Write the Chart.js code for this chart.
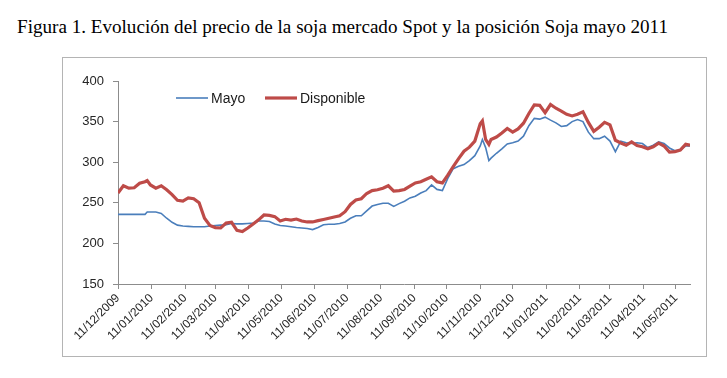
<!DOCTYPE html>
<html>
<head>
<meta charset="utf-8">
<script src="https://cdn.jsdelivr.net/npm/chart.js@4"></script>
<style>
  html, body { margin: 0; padding: 0; background: #ffffff; }
  body { width: 727px; height: 378px; position: relative; overflow: hidden; }
  #title {
    position: absolute; left: 17px; top: 16px;
    font-family: "Liberation Serif", "DejaVu Serif", serif;
    font-size: 18px; color: #000; white-space: nowrap; line-height: 22px;
  }
  #box {
    position: absolute; left: 62px; top: 57px; width: 643px; height: 298px;
    border: 1px solid #b4b4b4;
  }
  #box canvas { display: block; }
</style>
</head>
<body>
<div id="title">Figura 1. Evolución del precio de la soja mercado Spot y la posición Soja mayo 2011</div>
<div id="box"><canvas id="c" width="643" height="298"></canvas></div>
<script>
// Day offsets since 11/12/2009 (x positions of the samples)
const days = [0,5,10,15,20,25,27,30,35,40,45,50,55,60,65,70,75,80,85,90,95,100,105,110,115,120,125,130,135,140,145,150,155,160,165,170,175,180,185,190,195,200,205,210,215,220,225,230,235,240,245,250,255,260,265,270,275,280,285,290,295,300,305,310,315,320,325,330,335,337,340,343,345,350,355,360,365,370,375,380,385,390,395,400,405,410,415,420,425,430,435,440,445,450,455,460,465,470,475,480,485,490,495,500,505,510,515,520,525,529];

// Mayo (posición Soja mayo 2011)
const mayo = [235.8,235.8,235.8,235.8,235.8,235.8,238.6,238.6,238.6,237,231,226,222.5,221.5,221,220.5,220.5,220.5,221.5,222,222.5,223,224.5,224,224,224.5,225,227.6,227.6,227,224,222,221.5,220.5,219.5,219,218.3,217,219.5,223,223.5,223.5,224.5,226.4,231,234,234,240,246,248,249.5,249.5,245.5,249,252,256,258,262,265,272,266.5,265,280,292,295,297,302,308,320,328,318,302,305,311,316.5,322.5,324,326,332,345,354,353,355.5,351.8,348.5,344,345,350,352.5,350,337,329,329,332,326,313,326,324,323,324,323,318,321,325,323,317.5,314,315,320,320];

// Disponible (mercado Spot)
const disponible = [262,271,268,268.5,274,276,277.5,272,268,271,266,260,253,252,256,255,250,231,222,219.5,219,225,226,216,214.5,219,224,229,235,234.5,233,227.6,229.7,228.8,230,227.6,226.4,226.4,228,229.5,231,232.5,234,239,248,253.5,255,261.5,265,266,268,271,264.5,265,266.4,270.5,274.5,276,279,282,276,274.5,284,294.5,304.5,313.5,318.5,326,347.5,351,328,322,328,331,336,341.5,337,341,348,360,370.5,370,361,371,366.5,363,359,357,359,362,349,338,343,349,346,327,323.6,321,325,320.5,319,316.5,319,323.5,320,312.5,313,315,322,321];

// Month ticks (day offsets) and their labels
const tickDays = [0,31,62,90,121,151,182,212,243,274,304,335,365,396,427,455,486,516];
const tickLabels = ['11/12/2009','11/01/2010','11/02/2010','11/03/2010','11/04/2010','11/05/2010','11/06/2010','11/07/2010','11/08/2010','11/09/2010','11/10/2010','11/11/2010','11/12/2010','11/01/2011','11/02/2011','11/03/2011','11/04/2011','11/05/2011'];

const yTicks = [150,200,250,300,350,400];

// fit title width to reference (~651px)
(function(){
  const t = document.getElementById('title');
  const w = t.getBoundingClientRect().width;
  const fs = 18 * 651 / w;
  t.style.fontSize = fs.toFixed(2) + 'px';
})();

const toPts = arr => arr.map((v, i) => ({x: days[i], y: v}));

const legendPlugin = {
  id: 'inlineLegend',
  afterDatasetsDraw(chart) {
    const ctx = chart.ctx;
    const items = [
      {ds: chart.data.datasets[0], x: 113},
      {ds: chart.data.datasets[1], x: 202}
    ];
    const y = 40;
    ctx.save();
    ctx.font = '14px "Liberation Sans", Arial, sans-serif';
    ctx.textBaseline = 'middle';
    ctx.fillStyle = '#1a1a1a';
    items.forEach(it => {
      ctx.beginPath();
      ctx.strokeStyle = it.ds.borderColor;
      ctx.lineWidth = it.ds.borderWidth;
      ctx.moveTo(it.x, y);
      ctx.lineTo(it.x + 32, y);
      ctx.stroke();
      ctx.fillText(it.ds.label, it.x + 35, y + 1);
    });
    ctx.restore();
  }
};

new Chart(document.getElementById('c'), {
  type: 'line',
  data: {
    datasets: [
      { label: 'Mayo', data: toPts(mayo), borderColor: '#4a7ebb', borderWidth: 1.6,
        pointRadius: 0, tension: 0, fill: false, order: 1 },
      { label: 'Disponible', data: toPts(disponible), borderColor: '#be4b48', borderWidth: 3.2,
        pointRadius: 0, tension: 0, fill: false, order: 0 }
    ]
  },
  options: {
    responsive: false,
    animation: false,
    events: [],
    layout: { padding: { top: 23, right: 16, left: 0, bottom: 0 } },
    plugins: { legend: { display: false }, tooltip: { enabled: false } },
    scales: {
      x: {
        type: 'linear', min: 0, max: 529,
        afterBuildTicks(scale) { scale.ticks = tickDays.map(v => ({value: v})); },
        afterFit(scale) { scale.height = 72; },
        grid: { drawOnChartArea: false, drawTicks: true, tickLength: 5, color: '#8c8c8c' },
        border: { color: '#8c8c8c', width: 1 },
        ticks: {
          autoSkip: false, maxRotation: 45, minRotation: 45, padding: 2,
          color: '#262626', font: { family: '"Liberation Sans", Arial, sans-serif', size: 12 },
          callback(value) { const i = tickDays.indexOf(value); return i >= 0 ? tickLabels[i] : ''; }
        }
      },
      y: {
        min: 150, max: 400,
        afterBuildTicks(scale) { scale.ticks = yTicks.map(v => ({value: v})); },
        afterFit(scale) { scale.width = 55; },
        grid: { drawOnChartArea: false, drawTicks: true, tickLength: 5, color: '#8c8c8c' },
        border: { color: '#8c8c8c', width: 1 },
        ticks: {
          padding: 9, color: '#262626',
          font: { family: '"Liberation Sans", Arial, sans-serif', size: 13 }
        }
      }
    }
  },
  plugins: [legendPlugin]
});
</script>
</body>
</html>
